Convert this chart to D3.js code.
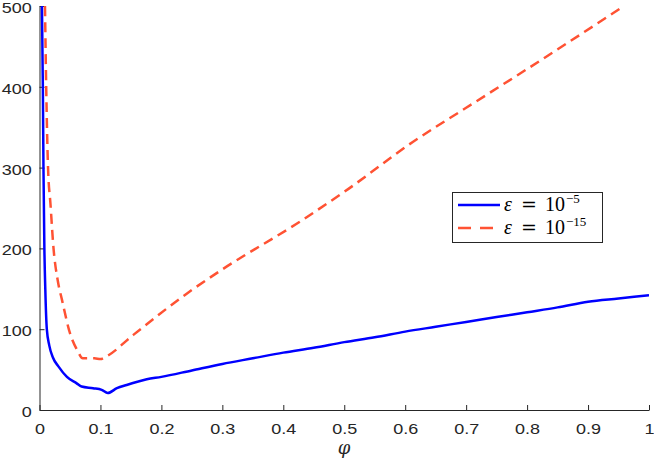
<!DOCTYPE html>
<html>
<head>
<meta charset="utf-8">
<script src="https://cdn.jsdelivr.net/npm/d3@7"></script>
<style>
  body { margin: 0; background: #fff; }
  svg { display: block; }
</style>
</head>
<body>
<svg id="chart" width="654" height="464"></svg>
<script>
// phi values and results for eps = 1e-5 (solid blue)
const phiBlue = [0.004, 0.0055, 0.0065, 0.008, 0.0095, 0.012, 0.016, 0.022, 0.031, 0.045, 0.061, 0.069, 0.088, 0.102, 0.112, 0.127, 0.143, 0.176, 0.2, 0.25, 0.3, 0.35, 0.4, 0.45, 0.5, 0.55, 0.6, 0.65, 0.7, 0.75, 0.8, 0.85, 0.9, 0.95, 1.0];
const valBlue = [500, 400, 300, 200, 150, 100, 80, 65, 54, 41, 33, 29, 27, 25, 21, 27, 31, 38, 41, 49, 57, 64, 71, 77, 84, 90, 97, 103, 109, 115, 121, 127, 134, 138, 142];

// phi values and results for eps = 1e-15 (dashed red)
const phiRed = [0.009, 0.011, 0.014, 0.018, 0.023, 0.03, 0.037, 0.05, 0.062, 0.071, 0.09, 0.1, 0.109, 0.154, 0.2415, 0.3, 0.427, 0.5, 0.613, 0.7, 0.8, 0.953];
const valRed = [500, 400, 300, 255, 200, 160, 136, 95, 74, 64, 64, 63, 66, 93, 144, 174, 233, 270, 332, 374, 422, 497];

const xTicks = [0, 0.1, 0.2, 0.3, 0.4, 0.5, 0.6, 0.7, 0.8, 0.9, 1];
const xTickLabels = ["0", "0.1", "0.2", "0.3", "0.4", "0.5", "0.6", "0.7", "0.8", "0.9", "1"];
const yTicks = [0, 100, 200, 300, 400, 500];
const yTickLabels = ["0", "100", "200", "300", "400", "500"];

const seriesNames = ["10", "10"];
const seriesExps = ["\u22125", "\u221215"];

function drawChart() {
    const svg = d3.select("#chart");
    const axisColor = "#262626";
    const stretch = 1.2; // tick labels in the original are a bit wide

    const x = d3.scaleLinear().domain([0, 1]).range([39.5, 649]);
    const y = d3.scaleLinear().domain([0, 500]).range([410, 6]);

    svg.append("clipPath")
       .attr("id", "plotClip")
       .append("rect")
       .attr("x", x(0)).attr("y", y(500))
       .attr("width", x(1) - x(0)).attr("height", y(0) - y(500));

    // X axis, ticks pointing inward
    const gx = svg.append("g")
       .attr("transform", `translate(0,${y(0)})`)
       .call(d3.axisBottom(x)
           .tickValues(xTicks)
           .tickFormat((d, i) => xTickLabels[i])
           .tickSizeInner(-5)
           .tickSizeOuter(0)
           .tickPadding(13));

    // Y axis
    const gy = svg.append("g")
       .attr("transform", `translate(${x(0)},0)`)
       .call(d3.axisLeft(y)
           .tickValues(yTicks)
           .tickFormat((d, i) => yTickLabels[i])
           .tickSizeInner(-5)
           .tickSizeOuter(0));

    gy.selectAll(".tick text")
      .attr("x", -7.8 / stretch)
      .attr("dy", "0.43em");

    [gx, gy].forEach(g => {
        g.select(".domain").attr("stroke", axisColor).attr("stroke-width", 1);
        g.selectAll(".tick line").attr("stroke", axisColor);
        g.selectAll(".tick text")
         .attr("fill", axisColor)
         .attr("transform", `scale(${stretch},1)`)
         .style("font-family", "'Liberation Sans', Arial, sans-serif")
         .style("font-size", "15px");
    });

    const line = d3.line()
        .x(d => x(d[0]))
        .y(d => y(d[1]))
        .curve(d3.curveMonotoneX);

    const plot = svg.append("g").attr("clip-path", "url(#plotClip)");

    plot.append("path")
        .datum(d3.zip(phiRed, valRed))
        .attr("d", line)
        .attr("fill", "none")
        .attr("stroke", "#ff5233")
        .attr("stroke-width", 2.5)
        .attr("stroke-dasharray", "10,6");

    plot.append("path")
        .datum(d3.zip(phiBlue, valBlue))
        .attr("d", line)
        .attr("fill", "none")
        .attr("stroke", "#0000ff")
        .attr("stroke-width", 2.5);

    // x label
    svg.append("text")
       .attr("x", 344)
       .attr("y", 454)
       .attr("text-anchor", "middle")
       .style("font-family", "'DejaVu Serif', serif")
       .style("font-style", "italic")
       .style("font-size", "18px")
       .attr("fill", axisColor)
       .text("\u03C6");

    // Legend
    const lg = svg.append("g");
    lg.append("rect")
      .attr("x", 452.5).attr("y", 192.5)
      .attr("width", 150).attr("height", 50)
      .attr("fill", "#fff")
      .attr("stroke", axisColor)
      .attr("stroke-width", 1);

    const rows = [
        { y: 205, color: "#0000ff", dash: null },
        { y: 228, color: "#ff5233", dash: "13,9" }
    ];

    rows.forEach((r, i) => {
        lg.append("line")
          .attr("x1", 458).attr("x2", 500)
          .attr("y1", r.y).attr("y2", r.y)
          .attr("stroke", r.color)
          .attr("stroke-width", 2.5)
          .attr("stroke-dasharray", r.dash);

        const t = lg.append("text")
          .attr("y", r.y + 6)
          .attr("fill", "#000")
          .style("font-family", "'Liberation Serif', 'Times New Roman', serif")
          .style("font-size", "20px");
        t.append("tspan").attr("x", 504).style("font-style", "italic").text("\u03B5");
        t.append("tspan").attr("x", 521)
         .style("font-family", "'DejaVu Serif', serif")
         .style("font-size", "19px")
         .text("=");
        t.append("tspan").attr("x", 545).text(seriesNames[i]);
        t.append("tspan")
         .attr("x", 566)
         .attr("dy", -8)
         .style("font-size", "13px")
         .text(seriesExps[i]);
    });
}

drawChart();
</script>
</body>
</html>
